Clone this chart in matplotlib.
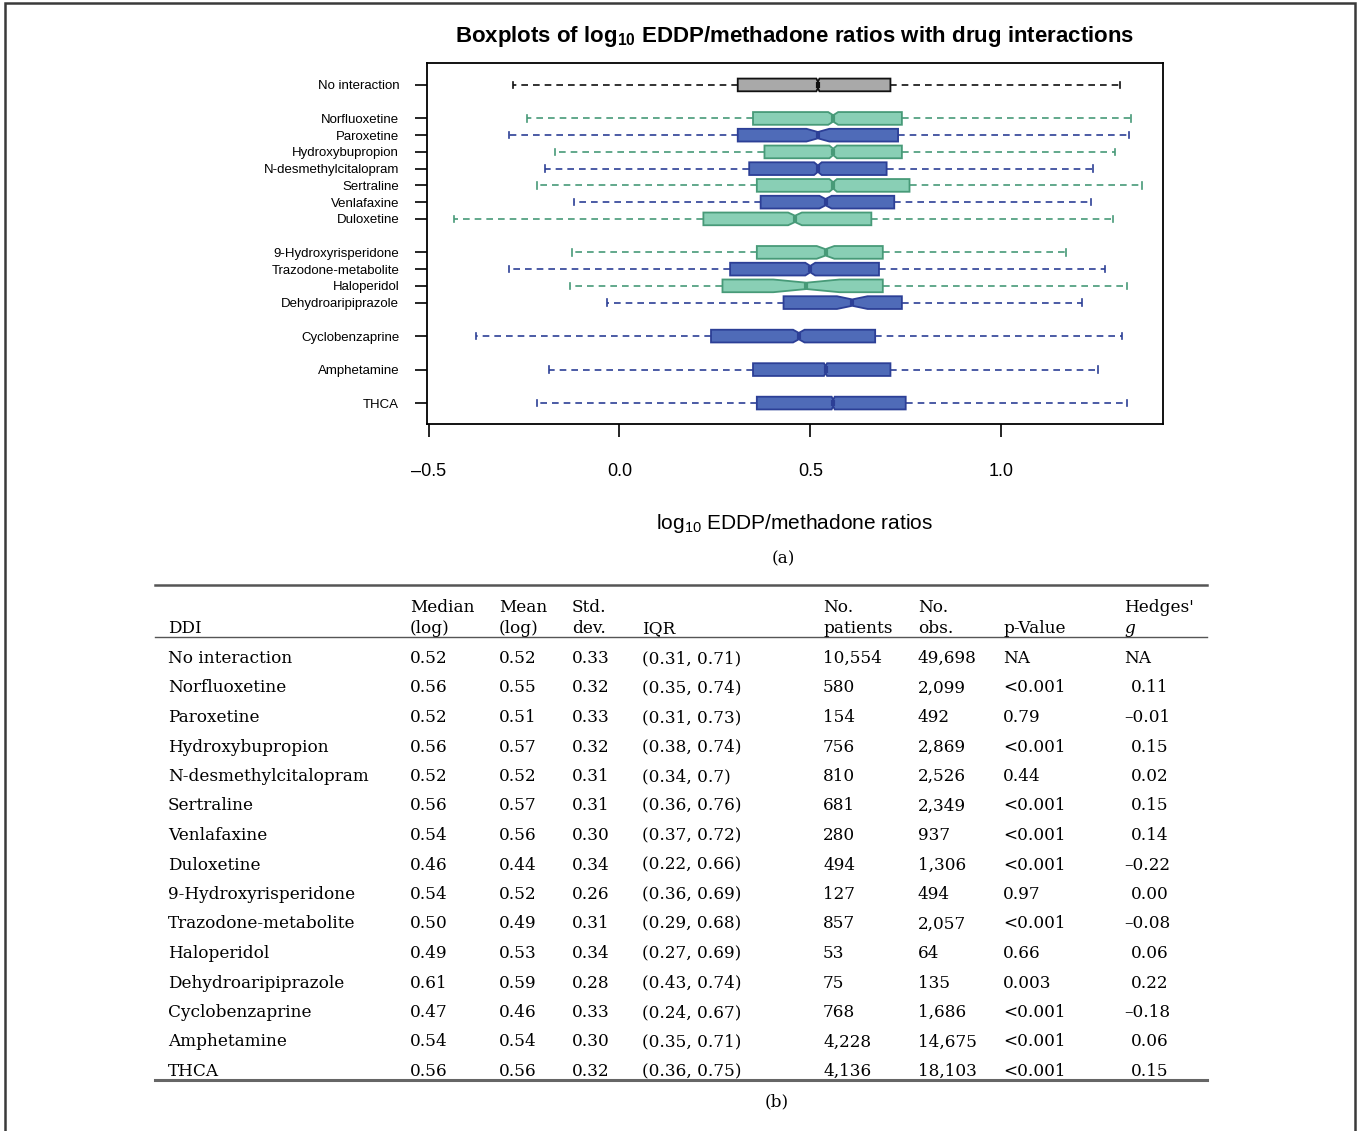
import matplotlib
matplotlib.use("Agg")
import matplotlib.pyplot as plt
from matplotlib.patches import Rectangle
from matplotlib.lines import Line2D
from matplotlib.ticker import FixedLocator, FuncFormatter

# Figure size in pixels
W, H = 1357, 1131

# ---- data ----
labels = ["No interaction", "Norfluoxetine", "Paroxetine", "Hydroxybupropion",
          "N-desmethylcitalopram", "Sertraline", "Venlafaxine", "Duloxetine",
          "9-Hydroxyrisperidone", "Trazodone-metabolite", "Haloperidol",
          "Dehydroaripiprazole", "Cyclobenzaprine", "Amphetamine", "THCA"]
positions = [1, 3, 4, 5, 6, 7, 8, 9, 11, 12, 13, 14, 16, 18, 20]
med = [0.52, 0.56, 0.52, 0.56, 0.52, 0.56, 0.54, 0.46, 0.54, 0.50, 0.49, 0.61, 0.47, 0.54, 0.56]
q1 = [0.31, 0.35, 0.31, 0.38, 0.34, 0.36, 0.37, 0.22, 0.36, 0.29, 0.27, 0.43, 0.24, 0.35, 0.36]
q3 = [0.71, 0.74, 0.73, 0.74, 0.70, 0.76, 0.72, 0.66, 0.69, 0.68, 0.69, 0.74, 0.67, 0.71, 0.75]
whislo = [-0.279, -0.241, -0.290, -0.170, -0.196, -0.215, -0.119, -0.433,
          -0.124, -0.290, -0.129, -0.032, -0.376, -0.185, -0.215]
whishi = [1.311, 1.340, 1.336, 1.298, 1.241, 1.370, 1.236, 1.293,
          1.169, 1.272, 1.330, 1.212, 1.317, 1.255, 1.331]
notch = [0.004, 0.013, 0.030, 0.010, 0.010, 0.010, 0.016, 0.018,
         0.023, 0.013, 0.087, 0.040, 0.015, 0.004, 0.004]
group = ["none", "g", "b", "g", "b", "g", "b", "g", "g", "b", "g", "b", "b", "b", "b"]

# table (b)
t_median = ["0.52", "0.56", "0.52", "0.56", "0.52", "0.56", "0.54", "0.46",
            "0.54", "0.50", "0.49", "0.61", "0.47", "0.54", "0.56"]
t_mean = ["0.52", "0.55", "0.51", "0.57", "0.52", "0.57", "0.56", "0.44",
          "0.52", "0.49", "0.53", "0.59", "0.46", "0.54", "0.56"]
t_sd = ["0.33", "0.32", "0.33", "0.32", "0.31", "0.31", "0.30", "0.34",
        "0.26", "0.31", "0.34", "0.28", "0.33", "0.30", "0.32"]
t_iqr = ["(0.31, 0.71)", "(0.35, 0.74)", "(0.31, 0.73)", "(0.38, 0.74)", "(0.34, 0.7)",
         "(0.36, 0.76)", "(0.37, 0.72)", "(0.22, 0.66)", "(0.36, 0.69)", "(0.29, 0.68)",
         "(0.27, 0.69)", "(0.43, 0.74)", "(0.24, 0.67)", "(0.35, 0.71)", "(0.36, 0.75)"]
t_patients = ["10,554", "580", "154", "756", "810", "681", "280", "494",
              "127", "857", "53", "75", "768", "4,228", "4,136"]
t_obs = ["49,698", "2,099", "492", "2,869", "2,526", "2,349", "937", "1,306",
         "494", "2,057", "64", "135", "1,686", "14,675", "18,103"]
t_pval = ["NA", "<0.001", "0.79", "<0.001", "0.44", "<0.001", "<0.001", "<0.001",
          "0.97", "<0.001", "0.66", "0.003", "<0.001", "<0.001", "<0.001"]
t_hedges = ["NA", "0.11", "–0.01", "0.15", "0.02", "0.15", "0.14", "–0.22",
            "0.00", "–0.08", "0.06", "0.22", "–0.18", "0.06", "0.15"]

# colours per group: fill, edge
colors = {"none": ("#a9a9a9", "#111111"),
          "g": ("#89cfb5", "#479a78"),
          "b": ("#4f6bb8", "#2c3f96")}

plt.rcParams["font.family"] = ["Liberation Sans", "DejaVu Sans"]
plt.rcParams["mathtext.fontset"] = "custom"
plt.rcParams["mathtext.rm"] = "Liberation Sans"
plt.rcParams["mathtext.bf"] = "Liberation Sans:bold"

fig = plt.figure(figsize=(W / 100, H / 100), dpi=100)
ax = fig.add_axes([427 / W, 1 - 424 / H, (1163 - 427) / W, (424 - 63) / H])

stats = []
for i in range(len(labels)):
    stats.append({"med": med[i], "q1": q1[i], "q3": q3[i],
                  "whislo": whislo[i], "whishi": whishi[i],
                  "cilo": med[i] - notch[i], "cihi": med[i] + notch[i],
                  "fliers": [], "label": labels[i]})

bp = ax.bxp(stats, positions=positions, widths=0.76, orientation="horizontal",
            patch_artist=True, shownotches=True, showfliers=False)

for i, g in enumerate(group):
    fc, ec = colors[g]
    bp["boxes"][i].set_facecolor(fc)
    bp["boxes"][i].set_edgecolor(ec)
    bp["boxes"][i].set_linewidth(1.3)
    bp["medians"][i].set_color(ec)
    bp["medians"][i].set_linewidth(3)
    for w in bp["whiskers"][2 * i:2 * i + 2]:
        w.set_color(ec)
        w.set_linewidth(1.2)
        w.set_linestyle((0, (4, 3)))
    for c in bp["caps"][2 * i:2 * i + 2]:
        c.set_color(ec)
        c.set_linewidth(1.2)

ax.set_xlim(-0.504, 1.424)
ax.set_ylim(21.25, -0.31)
ax.yaxis.set_major_locator(FixedLocator(positions))
ax.set_yticklabels(labels, fontsize=9.5)
ax.xaxis.set_major_locator(FixedLocator([-0.5, 0.0, 0.5, 1.0]))
ax.xaxis.set_major_formatter(FuncFormatter(lambda v, p: f"{v:.1f}".replace("-", "–")))
ax.tick_params(axis="y", length=9, width=1.2, pad=11)
ax.tick_params(axis="x", length=9, width=1.2, pad=19, labelsize=13)
for s in ax.spines.values():
    s.set_linewidth(1.3)

ax.set_title(r"Boxplots of log$_{\mathbf{10}}$ EDDP/methadone ratios with drug interactions",
             fontsize=16, fontweight="bold", pad=15)
ax.set_xlabel(r"log$_{10}$ EDDP/methadone ratios", fontsize=15, labelpad=23)


def fx(px):
    return px / W


def fy(py):
    return 1 - py / H


serif = "DejaVu Serif"
fs = 12.2
fig.text(fx(783), fy(559), "(a)", family=serif, fontsize=fs, ha="center", va="center")
fig.text(fx(777), fy(1102), "(b)", family=serif, fontsize=fs, ha="center", va="center")

# frame around the whole figure
fig.add_artist(Rectangle((fx(5), -0.02), fx(1350), 1.02 - 3 / H, transform=fig.transFigure,
                         fill=False, edgecolor="#3a3a3a", linewidth=1.8))

# table rules
fig.add_artist(Line2D([fx(155), fx(1207)], [fy(585), fy(585)], color="#555555", linewidth=1.8))
fig.add_artist(Line2D([fx(155), fx(1207)], [fy(637), fy(637)], color="#555555", linewidth=1.0))
fig.add_artist(Line2D([fx(155), fx(1207)], [fy(1080), fy(1080)], color="#666666", linewidth=2.2))

colx = [168, 410, 499, 572, 642, 823, 918, 1003, 1124]
head1 = ["", "Median", "Mean", "Std.", "", "No.", "No.", "", "Hedges'"]
head2 = ["DDI", "(log)", "(log)", "dev.", "IQR", "patients", "obs.", "p-Value", ""]
for x, h1, h2 in zip(colx, head1, head2):
    fig.text(fx(x), fy(612), h1, family=serif, fontsize=fs, va="baseline")
    fig.text(fx(x), fy(633), h2, family=serif, fontsize=fs, va="baseline")
fig.text(fx(colx[-1]), fy(633), "g", family=serif, style="italic", fontsize=fs, va="baseline")

columns = [labels, t_median, t_mean, t_sd, t_iqr, t_patients, t_obs, t_pval, t_hedges]
for i in range(len(labels)):
    yb = 663 + 29.5 * i
    for j, col in enumerate(columns):
        x = colx[j]
        if j == 8 and col[i][0].isdigit():
            x += 7
        fig.text(fx(x), fy(yb), col[i], family=serif, fontsize=fs, va="baseline")

fig.savefig("out.png", dpi=100)
